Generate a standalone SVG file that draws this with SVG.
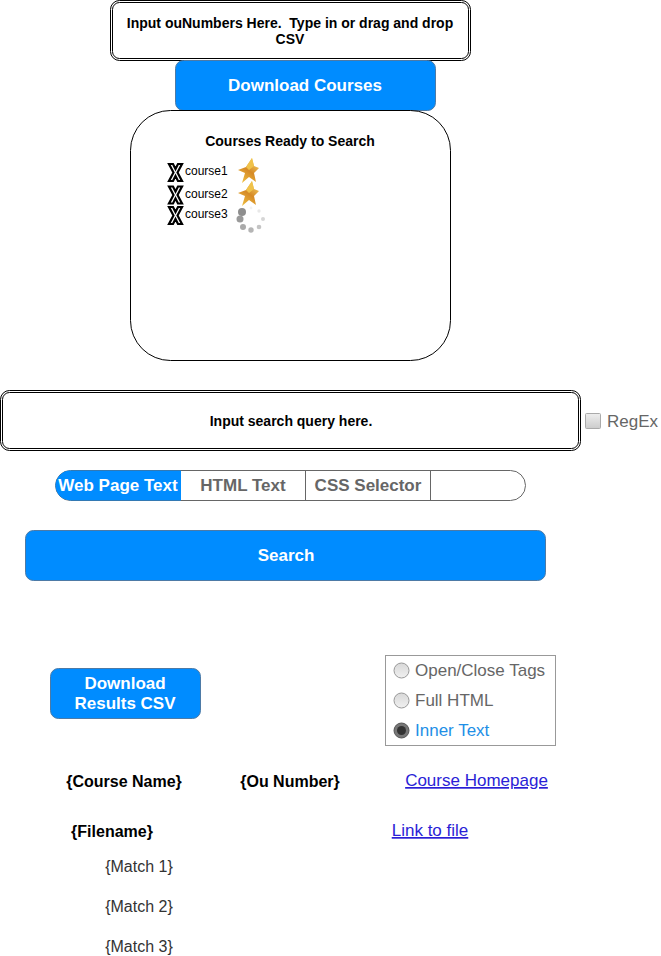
<svg xmlns="http://www.w3.org/2000/svg" width="661" height="956" viewBox="0 0 661 956">
<style>
text{font-family:"Liberation Sans",Arial,sans-serif;white-space:pre}
.c{text-anchor:middle}
.b{font-weight:bold}
.in{font-size:14px;font-weight:bold;fill:#000}
.btn{fill:#008cff;stroke:#4d7aa6;stroke-width:1}
.w{fill:#fff;font-size:17px;font-weight:bold}
.o{fill:#fff;stroke:#000;stroke-width:1}
.tab{font-size:17px;font-weight:bold;fill:#666}
.g{font-size:17px;fill:#666}
.cr{font-size:12px;fill:#000}
.h{font-size:16px;font-weight:bold;fill:#000}
.m{font-size:16px;fill:#333}
.l{font-size:17px;fill:#2a1ed6;text-decoration:underline}
.rad{fill:url(#rg);stroke:#999;stroke-width:1}
</style>
<defs>
<linearGradient id="rg" x1="0" y1="0" x2="0" y2="1"><stop offset="0" stop-color="#d8d8d8"/><stop offset="1" stop-color="#f0f0f0"/></linearGradient>
<linearGradient id="ck" x1="0" y1="0" x2="0" y2="1"><stop offset="0" stop-color="#eee"/><stop offset="1" stop-color="#ccc"/></linearGradient>
<linearGradient id="st" x1="0.8" y1="0" x2="0.2" y2="1"><stop offset="0" stop-color="#f5d469"/><stop offset=".5" stop-color="#d68a26"/><stop offset="1" stop-color="#efc040"/></linearGradient>
<g id="x"><path d="M-6.500-8.500h4l2.500 5 2.500-5h4l-4.500 8.500 4.500 8.500h-4l-2.500-5-2.500 5h-4l4.500-8.500z" fill="#fff" stroke="#000" stroke-width="2.200"/></g>
<g id="star"><path d="M4-13L6-5L11-3L6 2L8 11L1 6L-6 12L-3 2L-10-1L-2-4z" fill="url(#st)"/><path d="M4-13L6-5L1-1L-2-4z" fill="#f0c24a"/></g>
</defs>
<g id="connectors"/>
<g id="ou-input">
<rect class="o" x="110.500" y="0.500" width="360" height="60" rx="9"/>
<rect class="o" x="112.500" y="2.500" width="356" height="56" rx="7"/>
<text class="in c" x="290" y="28">Input ouNumbers Here.  Type in or drag and drop</text>
<text class="in c" x="290" y="44">CSV</text>
</g>
<g id="download-courses">
<rect class="btn" x="175.500" y="60.500" width="260" height="50" rx="8"/>
<text class="w c" x="305" y="91">Download Courses</text>
</g>
<g id="courses-panel">
<rect class="o" x="130.500" y="110.500" width="320" height="250" rx="40"/>
<text class="in c" x="290" y="146">Courses Ready to Search</text>
</g>
<g id="course2"><use href="#x" x="175.500" y="195"/><text class="cr" x="185" y="198">course2</text><use href="#star" x="248" y="194"/></g>
<g id="course1"><use href="#x" x="175.500" y="172.500"/><text class="cr" x="185" y="175">course1</text><use href="#star" x="248" y="171"/></g>
<g id="course3"><use href="#x" x="175.500" y="215.500"/><text class="cr" x="185" y="218">course3</text>
<g id="spinner">
<circle cx="242" cy="212" r="4" fill="#8e8e8e"/><circle cx="240" cy="219" r="3.500" fill="#9a9a9a"/>
<circle cx="243" cy="227" r="3" fill="#aaa"/><circle cx="251" cy="230" r="2.700" fill="#b5b5b5"/>
<circle cx="259" cy="227" r="2.300" fill="#c4c4c4"/><circle cx="263" cy="219" r="2" fill="#d6d6d6"/>
<circle cx="259" cy="211" r="1.700" fill="#e8e8e8"/><circle cx="251" cy="208" r="1.400" fill="#f2f2f2"/>
</g></g>
<g id="search-input">
<rect class="o" x="0.500" y="390.500" width="580" height="60" rx="9"/>
<rect class="o" x="2.500" y="392.500" width="576" height="56" rx="7"/>
<text class="in c" x="291" y="426">Input search query here.</text>
</g>
<g id="regex">
<rect x="585.500" y="413.500" width="15" height="15" rx="1" fill="url(#ck)" stroke="#aaa"/>
<text class="g" x="607" y="427">RegEx</text>
</g>
<g id="tabs">
<rect x="55.500" y="470.500" width="470" height="30" rx="15" fill="#fff" stroke="#666"/>
<path d="M70.500 470.500H181V500.500H70.500a15 15 0 0 1-15-15 15 15 0 0 1 15-15z" fill="#008cff"/>
<path d="M305.500 470.500V500.500M430.500 470.500V500.500" stroke="#666" fill="none"/>
<text class="w c" x="118" y="491">Web Page Text</text>
<text class="tab c" x="243" y="491">HTML Text</text>
<text class="tab c" x="368" y="491">CSS Selector</text>
</g>
<g id="search-button">
<rect class="btn" x="25.500" y="530.500" width="520" height="50" rx="8"/>
<text class="w c" x="286" y="561">Search</text>
</g>
<g id="download-results">
<rect class="btn" x="50.500" y="668.500" width="150" height="50" rx="8"/>
<text class="w c" x="125" y="689">Download</text>
<text class="w c" x="125" y="709">Results CSV</text>
</g>
<g id="radio-group">
<rect x="385.500" y="655.500" width="170" height="90" fill="#fff" stroke="#999"/>
<circle class="rad" cx="401.500" cy="670.500" r="7.500"/>
<text class="g" x="415" y="676">Open/Close Tags</text>
<circle class="rad" cx="401.500" cy="700.500" r="7.500"/>
<text class="g" x="415" y="706">Full HTML</text>
<circle cx="401.500" cy="730.500" r="7.500" fill="#777" stroke="#555"/>
<circle cx="401.500" cy="730.500" r="4.500" fill="#333"/>
<text x="415" y="736" style="font-size:17px;fill:#1e8fe6">Inner Text</text>
</g>
<g id="course-name"><text class="h c" x="124" y="787">{Course Name}</text></g>
<g id="ou-number"><text class="h c" x="290" y="787">{Ou Number}</text></g>
<g id="course-homepage"><text class="l c" x="476.500" y="786">Course Homepage</text></g>
<g id="filename"><text class="h c" x="112" y="837">{Filename}</text></g>
<g id="link-file"><text class="l c" x="430" y="836">Link to file</text></g>
<g id="match1"><text class="m c" x="139" y="872">{Match 1}</text></g>
<g id="match2"><text class="m c" x="139" y="912">{Match 2}</text></g>
<g id="match3"><text class="m c" x="139" y="952">{Match 3}</text></g>
</svg>
